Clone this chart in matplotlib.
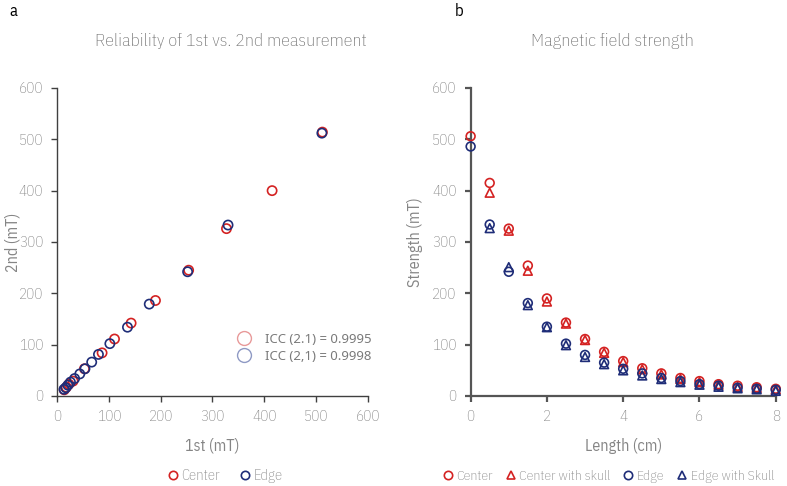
import numpy as np
import matplotlib.pyplot as plt
from matplotlib.lines import Line2D

plt.rcParams['font.family'] = ['IBM Plex Sans Condensed', 'Roboto Condensed',
                               'Liberation Sans Narrow', 'DejaVu Sans']
plt.rcParams['font.weight'] = 'light'

# --- data: panel a (1st vs 2nd measurement) ---
center_1st = [512, 415, 327, 254, 190, 143, 111, 87, 53, 31, 23, 18, 14]
center_2nd = [514, 400, 326, 245, 186, 142, 111, 84, 53, 29, 23, 17, 12]
edge_1st = [511, 330, 252, 178, 136, 102, 80, 67, 54, 44, 34, 26, 21, 17, 13.5]
edge_2nd = [512, 333, 242, 179, 134, 102, 81, 66, 53, 43, 34, 27, 21, 16, 13]

# --- data: panel b (field strength vs length) ---
length = [0, 0.5, 1, 1.5, 2, 2.5, 3, 3.5, 4, 4.5, 5, 5.5, 6, 6.5, 7, 7.5, 8]
center = [506, 415, 326, 254, 190, 143, 111, 86, 68, 54, 44, 35, 29, 23, 20, 17, 14]
edge = [486, 334, 242, 181, 135, 102, 80, 65, 53, 44, 35, 29, 23, 20, 16, 14, 12]
length_skull = length[1:]
center_skull = [396, 322, 244, 184, 141, 109, 84, 66, 52, 42, 33, 27, 22, 18, 16, 13]
edge_skull = [327, 251, 177, 134, 99, 76, 62, 50, 40, 33, 27, 22, 18, 15, 13, 10]

red = '#d42222'
blue = '#1f2d78'
grey = '#858585'

fig = plt.figure(figsize=(7.87, 4.86), dpi=100)
ax1 = fig.add_axes([0.0724, 0.1852, 0.3952, 0.6338])
ax2 = fig.add_axes([0.598, 0.1852, 0.3877, 0.6338])


def style(ax, lw, col):
    for s in ['top', 'right']:
        ax.spines[s].set_visible(False)
    for s in ['left', 'bottom']:
        ax.spines[s].set_linewidth(lw)
        ax.spines[s].set_color(col)
    ax.tick_params(colors=col, labelcolor=grey, labelsize=11, length=4, width=lw, pad=6)


# --- a ---
ax1.scatter(center_1st, center_2nd, s=44, facecolors='none', edgecolors=red, linewidths=1.2, zorder=3)
ax1.scatter(edge_1st, edge_2nd, s=44, facecolors='none', edgecolors=blue, linewidths=1.2, zorder=3)
ax1.set_xlim(0, 600)
ax1.set_ylim(0, 600)
ax1.set_xticks(range(0, 601, 100))
ax1.set_yticks(range(0, 601, 100))
style(ax1, 1.0, '#404040')
ax1.set_xlabel('1st (mT)', color=grey, fontsize=11.5)
ax1.set_ylabel('2nd (mT)', color=grey, fontsize=11.5)
ax1.xaxis.set_label_coords(0.5, -0.135)
ax1.yaxis.set_label_coords(-0.118, 0.5)

icc = [Line2D([], [], ls='none', marker='o', ms=10, mfc='none', mec='#e89a9a', mew=1),
       Line2D([], [], ls='none', marker='o', ms=10, mfc='none', mec='#8f9ac4', mew=1)]
leg = ax1.legend(icc, ['ICC (2.1) = 0.9995', 'ICC (2,1) = 0.9998'], loc='lower right',
                 bbox_to_anchor=(1.05, 0.07), frameon=False, handletextpad=0.6,
                 labelspacing=0.3, prop={'family': 'Noto Sans', 'size': 9.5, 'weight': 'normal'})
for t in leg.get_texts():
    t.set_color('#7a7a7a')

# --- b ---
ax2.scatter(length, center, s=40, facecolors='none', edgecolors=red, linewidths=1.2, zorder=3)
ax2.scatter(length_skull, center_skull, s=40, marker='^', facecolors='none', edgecolors=red, linewidths=1.2, zorder=3)
ax2.scatter(length, edge, s=40, facecolors='none', edgecolors=blue, linewidths=1.2, zorder=3)
ax2.scatter(length_skull, edge_skull, s=40, marker='^', facecolors='none', edgecolors=blue, linewidths=1.2, zorder=3)
ax2.set_xlim(0, 8)
ax2.set_ylim(0, 600)
ax2.set_xticks(range(0, 9, 2))
ax2.set_yticks(range(0, 601, 100))
for c in ax2.collections:
    c.set_clip_on(False)
style(ax2, 1.6, '#555555')
ax2.set_xlabel('Length (cm)', color=grey, fontsize=11.5)
ax2.set_ylabel('Strength (mT)', color=grey, fontsize=11.5)
ax2.xaxis.set_label_coords(0.5, -0.135)
ax2.yaxis.set_label_coords(-0.155, 0.5)

# titles and panel letters
fig.text(0.293, 0.915, 'Reliability of 1st vs. 2nd measurement', ha='center', va='center',
         color='#707070', fontsize=13)
fig.text(0.778, 0.915, 'Magnetic field strength', ha='center', va='center',
         color='#707070', fontsize=13)
fig.text(0.012, 0.978, 'a', ha='left', va='center', fontsize=12, weight='normal')
fig.text(0.578, 0.978, 'b', ha='left', va='center', fontsize=12, weight='normal')

# bottom legends
h1 = [Line2D([], [], ls='none', marker='o', ms=6, mfc='none', mec=red, mew=1.2),
      Line2D([], [], ls='none', marker='o', ms=6, mfc='none', mec=blue, mew=1.2)]
l1 = fig.legend(h1, ['Center', 'Edge'], loc='center', bbox_to_anchor=(0.285, 0.02), ncol=2,
                frameon=False, handletextpad=0.1, columnspacing=1.2, fontsize=10.5, handlelength=1)
for t in l1.get_texts():
    t.set_color(grey)

h2 = [Line2D([], [], ls='none', marker='o', ms=6, mfc='none', mec=red, mew=1.2),
      Line2D([], [], ls='none', marker='^', ms=6, mfc='none', mec=red, mew=1.2),
      Line2D([], [], ls='none', marker='o', ms=6, mfc='none', mec=blue, mew=1.2),
      Line2D([], [], ls='none', marker='^', ms=6, mfc='none', mec=blue, mew=1.2)]
l2 = fig.legend(h2, ['Center', 'Center with skull', 'Edge', 'Edge with Skull'], loc='center left',
                bbox_to_anchor=(0.56, 0.02), ncol=4, frameon=False, handletextpad=0.1,
                columnspacing=0.8, fontsize=10, handlelength=1, borderaxespad=0, borderpad=0)
for t in l2.get_texts():
    t.set_color(grey)

fig.savefig('out.png', dpi=100)
